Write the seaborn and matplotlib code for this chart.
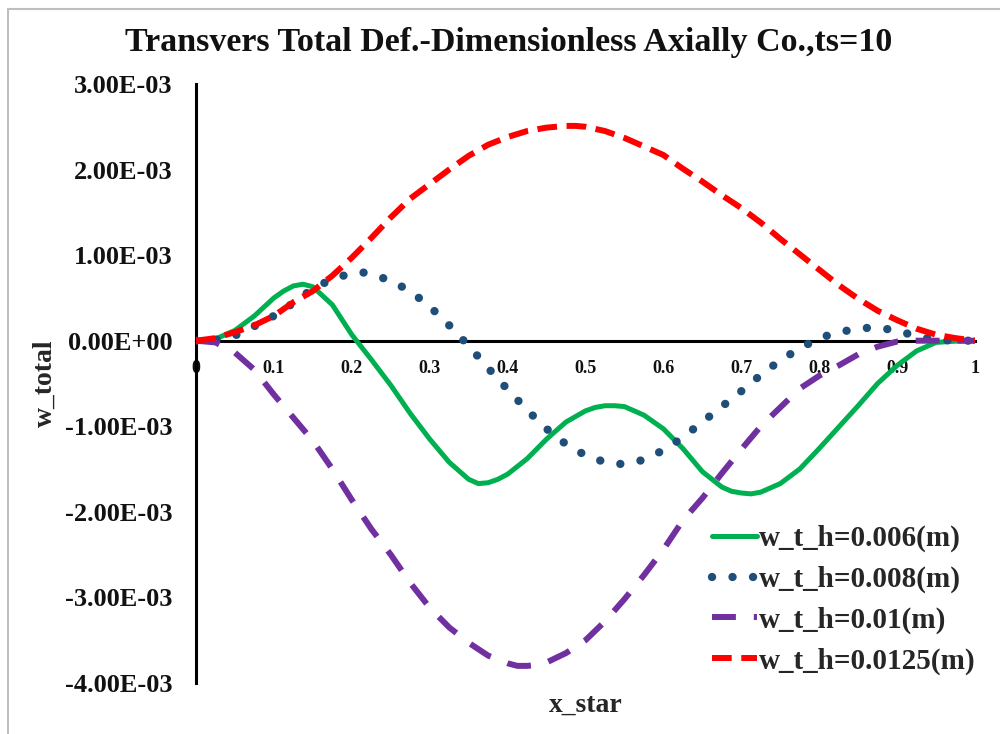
import numpy as np
import pandas as pd
import matplotlib
matplotlib.use("Agg")
import matplotlib.pyplot as plt
import seaborn as sns
from matplotlib.ticker import FuncFormatter, FixedLocator
from matplotlib.lines import Line2D

# ---------------- data (w values in units of 1e-3 m) ----------------
x_h006 = [0.0, 0.025, 0.05, 0.075, 0.1, 0.1125, 0.125, 0.1375, 0.15, 0.175, 0.2, 0.225,
          0.25, 0.275, 0.3, 0.325, 0.35, 0.3625, 0.375, 0.3875, 0.4, 0.425, 0.45, 0.475,
          0.5, 0.5125, 0.525, 0.5375, 0.55, 0.575, 0.6, 0.625, 0.65, 0.675, 0.6875, 0.7,
          0.7125, 0.725, 0.75, 0.775, 0.8, 0.825, 0.85, 0.875, 0.9, 0.925, 0.95, 0.975, 1.0]
w_h006 = [0.0, 0.02, 0.12, 0.29, 0.50, 0.58, 0.64, 0.66, 0.63, 0.42, 0.07, -0.22,
          -0.52, -0.85, -1.15, -1.42, -1.62, -1.67, -1.66, -1.62, -1.56, -1.38, -1.15, -0.95,
          -0.82, -0.78, -0.76, -0.76, -0.77, -0.87, -1.03, -1.26, -1.53, -1.71, -1.76, -1.78,
          -1.79, -1.77, -1.67, -1.50, -1.26, -1.01, -0.76, -0.50, -0.29, -0.12, -0.02, -0.005, 0.0]

x_h008 = [0.0, 0.025, 0.05, 0.075, 0.1, 0.125, 0.15, 0.175, 0.2, 0.2125, 0.225,
          0.25, 0.275, 0.3, 0.325, 0.35, 0.375, 0.4, 0.425, 0.45, 0.475,
          0.5, 0.525, 0.5375, 0.55, 0.5625, 0.575, 0.6, 0.625, 0.65, 0.675, 0.7, 0.725,
          0.75, 0.775, 0.8, 0.825, 0.85, 0.8625, 0.875, 0.9, 0.925, 0.95, 0.975, 1.0]
w_h008 = [0.0, 0.01, 0.06, 0.17, 0.29, 0.44, 0.61, 0.72, 0.79, 0.80, 0.78,
          0.70, 0.58, 0.40, 0.18, -0.06, -0.32, -0.57, -0.81, -1.03, -1.21,
          -1.34, -1.42, -1.44, -1.44, -1.42, -1.39, -1.28, -1.13, -0.95, -0.77, -0.59, -0.40,
          -0.23, -0.09, 0.03, 0.10, 0.14, 0.15, 0.15, 0.12, 0.05, 0.01, 0.0, 0.0]

x_h010 = [0.0, 0.025, 0.05, 0.075, 0.1, 0.125, 0.15, 0.175, 0.2, 0.225,
          0.25, 0.275, 0.3, 0.325, 0.35, 0.375, 0.4, 0.4125, 0.425, 0.4375, 0.45, 0.475,
          0.5, 0.525, 0.55, 0.575, 0.6, 0.625, 0.65, 0.675, 0.7, 0.725,
          0.75, 0.775, 0.8, 0.825, 0.85, 0.875, 0.9, 0.925, 0.95, 0.975, 1.0]
w_h010 = [0.0, -0.02, -0.14, -0.34, -0.63, -0.90, -1.17, -1.50, -1.86, -2.20,
          -2.50, -2.83, -3.12, -3.35, -3.53, -3.68, -3.77, -3.80, -3.80, -3.79, -3.76, -3.65,
          -3.50, -3.28, -3.02, -2.74, -2.44, -2.10, -1.84, -1.55, -1.27, -1.00,
          -0.78, -0.56, -0.41, -0.29, -0.16, -0.07, -0.01, 0.0, 0.0, 0.0, 0.0]

x_h0125 = [0.0, 0.025, 0.05, 0.075, 0.1, 0.125, 0.15, 0.175, 0.2, 0.225,
           0.25, 0.275, 0.3, 0.325, 0.35, 0.375, 0.4, 0.425, 0.45, 0.4625, 0.475, 0.4875,
           0.5, 0.525, 0.55, 0.575, 0.6, 0.625, 0.65, 0.675, 0.7, 0.725,
           0.75, 0.775, 0.8, 0.825, 0.85, 0.875, 0.9, 0.925, 0.95, 0.975, 1.0]
w_h0125 = [0.0, 0.03, 0.10, 0.18, 0.29, 0.45, 0.58, 0.76, 0.97, 1.20,
           1.44, 1.66, 1.83, 2.00, 2.16, 2.29, 2.38, 2.45, 2.49, 2.50, 2.51, 2.51,
           2.50, 2.45, 2.37, 2.27, 2.17, 2.01, 1.86, 1.70, 1.55, 1.38,
           1.19, 1.01, 0.83, 0.65, 0.49, 0.35, 0.24, 0.14, 0.07, 0.03, 0.0]

labels = ["w_t_h=0.006(m)", "w_t_h=0.008(m)", "w_t_h=0.01(m)", "w_t_h=0.0125(m)"]
x_ticks = [0.0, 0.1, 0.2, 0.3, 0.4, 0.5, 0.6, 0.7, 0.8, 0.9, 1.0]
y_ticks = [-4e-3, -3e-3, -2e-3, -1e-3, 0.0, 1e-3, 2e-3, 3e-3]
title = "Transvers Total Def.-Dimensionless Axially Co.,ts=10"

# ---------------- style ----------------
sns.set_style("white")
plt.rcParams["font.family"] = ["Liberation Serif", "DejaVu Serif"]
plt.rcParams["font.weight"] = "bold"
plt.rcParams["axes.labelweight"] = "bold"

fig = plt.figure(figsize=(10, 7.34), dpi=100)
ax = fig.add_axes([0.196, 0.0695, 0.779, 0.8161])

styles = [
    dict(color="#00B050", linewidth=3.6, linestyle="-", dash_capstyle="butt"),
    dict(color="#1F4E79", linewidth=6.0, linestyle=(0, (0.01, 2.45)), dash_capstyle="round"),
    dict(color="#7030A0", linewidth=4.3, linestyle=(0, (4.0, 3.0)), dash_capstyle="butt"),
    dict(color="#FF0000", linewidth=4.3, linestyle=(0, (3.3, 1.6)), dash_capstyle="butt"),
]

series = [(x_h006, w_h006), (x_h008, w_h008), (x_h010, w_h010), (x_h0125, w_h0125)]
for (xs, vals), lab, st in zip(series, labels, styles):
    df = pd.DataFrame({"x_star": xs, "w_total": np.array(vals) * 1e-3})
    sns.lineplot(data=df, x="x_star", y="w_total", ax=ax, label=lab,
                 sort=False, errorbar=None, legend=False, **st)

ax.set_xlim(0, 1)
ax.set_ylim(-4e-3, 3e-3)

for s in ["top", "right"]:
    ax.spines[s].set_visible(False)
ax.spines["bottom"].set_position(("data", 0))
for s in ["left", "bottom"]:
    ax.spines[s].set_linewidth(2.2)
    ax.spines[s].set_color("black")
    ax.spines[s].set_zorder(1)

ax.xaxis.set_major_locator(FixedLocator(x_ticks))
ax.yaxis.set_major_locator(FixedLocator(y_ticks))
ax.xaxis.set_major_formatter(FuncFormatter(lambda v, p: f"{round(v, 3):g}"))
ax.yaxis.set_major_formatter(FuncFormatter(lambda v, p: f"{v:.2E}"))
ax.tick_params(axis="x", direction="in", length=5, width=2, pad=14,
               labelsize=13, color="black", labelcolor="#111111")
ax.tick_params(axis="y", direction="in", length=5, width=2, pad=17,
               labelsize=19, color="black", labelcolor="#111111")
for t in ax.get_xticklabels() + ax.get_yticklabels():
    t.set_fontweight("bold")

ax.set_xlabel("x_star", fontsize=20, fontweight="bold", va="center")
ax.xaxis.set_label_coords(0.5, (683 - 705) / 599)
ax.set_ylabel("w_total", fontsize=20, fontweight="bold", va="center")
ax.yaxis.set_label_coords((45 - 196) / 779, 0.5)

fig.suptitle(title, x=0.509, y=1 - 42 / 734, va="center",
             fontsize=24.5, fontweight="bold", color="#111111")

ax.legend(loc="upper left", bbox_to_anchor=(0.712, 1 - 525 / 734),
          bbox_transform=fig.transFigure, frameon=False, borderpad=0,
          borderaxespad=0, handlelength=1.55, handletextpad=0.05,
          labelspacing=0.46, prop=dict(size=21, weight="bold"))

# chart-area border (light grey)
fig.add_artist(Line2D([0.008, 0.008], [0.0, 0.988], transform=fig.transFigure,
                      color="#BFBFBF", lw=1.5))
fig.add_artist(Line2D([0.008, 1.0], [0.988, 0.988], transform=fig.transFigure,
                      color="#BFBFBF", lw=1.5))

fig.savefig("out.png", dpi=100)
